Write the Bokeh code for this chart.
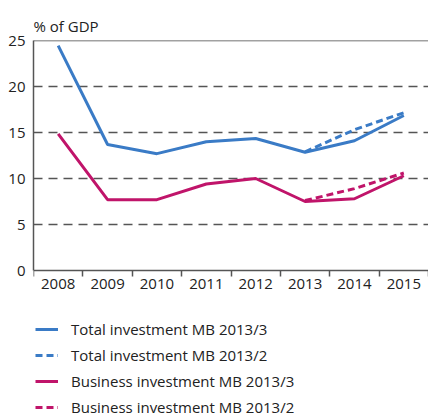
from bokeh.plotting import figure
from bokeh.models import Range1d, FixedTicker, Span, Legend, LegendItem, Title, LinearAxis
from bokeh.embed import file_html
from bokeh.resources import INLINE

years = ["2008", "2009", "2010", "2011", "2012", "2013", "2014", "2015"]
total_mb3 = [24.45, 13.7, 12.7, 14.0, 14.35, 12.85, 14.1, 16.85]
forecast_years = ["2013", "2014", "2015"]
total_mb2 = [12.9, 15.3, 17.15]
business_mb3 = [14.85, 7.7, 7.7, 9.4, 10.0, 7.5, 7.8, 10.3]
business_mb2 = [7.6, 8.9, 10.6]
y_ticks = [0, 5, 10, 15, 20, 25]
labels = ["Total investment MB 2013/3", "Total investment MB 2013/2",
          "Business investment MB 2013/3", "Business investment MB 2013/2"]

BLUE = "#3a7bc6"
RED = "#c0146a"
FONT = "Open Sans"

# layout (pixels)
W, H = 428, 419
TOP, LEFT = 40, 33
ZERO_PX = 270           # pixel row of the value 0
FRAME_BOTTOM = H        # frame runs to the bottom edge (legend lives inside)
px_per_unit = (ZERO_PX - TOP) / y_ticks[-1]
y_min = -(FRAME_BOTTOM - ZERO_PX) / px_per_unit

pos = {y: i + 0.5 for i, y in enumerate(years)}
x_all = [pos[y] for y in years]
x_fc = [pos[y] for y in forecast_years]

p = figure(width=W, height=H, output_backend="svg", toolbar_location=None,
           x_range=Range1d(0, len(years)), y_range=Range1d(y_min, y_ticks[-1]),
           min_border_left=LEFT, min_border_right=0, min_border_top=TOP,
           min_border_bottom=0, x_axis_location=None)
p.outline_line_color = None
p.background_fill_color = "white"

t = Title(text="% of GDP", align="left", offset=0, text_font=FONT,
          text_font_size="15px", text_font_style="normal", text_color="#222222",
          standoff=9)
p.add_layout(t, "above")

xa = LinearAxis(fixed_location=0)
p.add_layout(xa, "below")
xa.ticker = FixedTicker(ticks=x_all, minor_ticks=list(range(len(years) + 1)))
xa.major_label_overrides = {v: y for v, y in zip(x_all, years)}
xa.major_tick_out = 0
xa.major_tick_in = 0
xa.minor_tick_out = 6
xa.minor_tick_in = 0
xa.minor_tick_line_color = "#555555"
xa.minor_tick_line_width = 1.5
xa.axis_line_color = "#555555"
xa.axis_line_width = 1.5
xa.major_label_text_font = FONT
xa.major_label_text_font_size = "15px"
xa.major_label_text_color = "#222222"
xa.major_label_standoff = 2

ya = p.yaxis[0]
ya.ticker = FixedTicker(ticks=y_ticks)
ya.bounds = (y_ticks[0], y_ticks[-1])
ya.major_tick_out = 0
ya.major_tick_in = 0
ya.minor_tick_line_color = None
ya.axis_line_color = "#555555"
ya.axis_line_width = 1.5
ya.major_label_text_font = FONT
ya.major_label_text_font_size = "15px"
ya.major_label_text_color = "#222222"
ya.major_label_standoff = 8

p.xgrid.grid_line_color = None
p.ygrid.ticker = FixedTicker(ticks=y_ticks[1:-1])
p.ygrid.grid_line_color = "#555555"
p.ygrid.grid_line_width = 1.5
p.ygrid.grid_line_dash = "9 6"

p.add_layout(Span(location=y_ticks[-1], dimension="width", line_color="#444444",
                  line_width=1.5))

r1 = p.line(x_all, total_mb3, line_color=BLUE, line_width=3)
r2 = p.line(x_fc, total_mb2, line_color=BLUE, line_width=3, line_dash="7 4")
r3 = p.line(x_all, business_mb3, line_color=RED, line_width=3)
r4 = p.line(x_fc, business_mb2, line_color=RED, line_width=3, line_dash="7 4")

legend = Legend(items=[LegendItem(label=l, renderers=[r])
                       for l, r in zip(labels, [r1, r2, r3, r4])],
                location=(2, 2), orientation="vertical",
                label_text_font=FONT, label_text_font_size="15px",
                label_text_color="#222222",
                glyph_width=23, glyph_height=20, label_standoff=13,
                label_height=20, spacing=6, padding=0, margin=0,
                border_line_color=None, background_fill_alpha=0)
p.add_layout(legend, "center")

open("out.html", "w").write(file_html(p, INLINE))
